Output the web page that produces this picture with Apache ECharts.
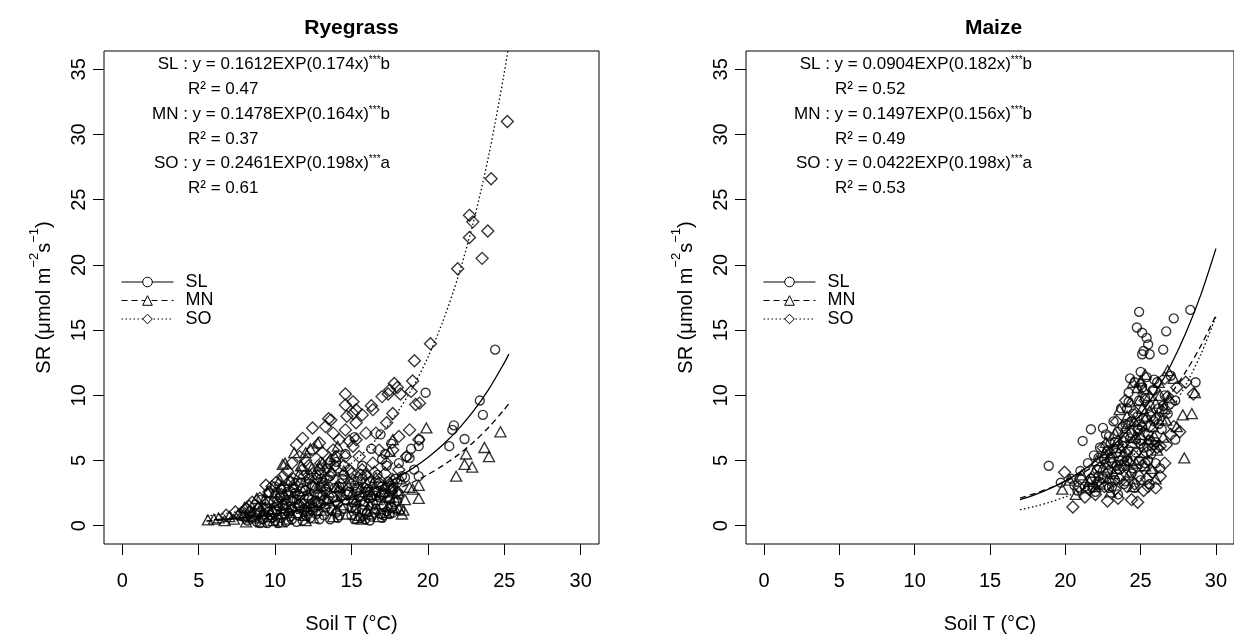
<!DOCTYPE html>
<html><head><meta charset="utf-8">
<script src="https://cdn.jsdelivr.net/npm/echarts@6/dist/echarts.min.js"></script>
<style>html,body{margin:0;padding:0;background:#fff}#c{width:1234px;height:639px}</style>
</head><body><div id="c"></div>
<script>
// ---------- data ----------
const panelTitles = ['Ryegrass', 'Maize'];
const xTicks = [0, 5, 10, 15, 20, 25, 30];
const yTicks = [0, 5, 10, 15, 20, 25, 30, 35];
const seriesNames = ['SL', 'MN', 'SO'];

const ryeEquations = ['SL : y = 0.1612EXP(0.174x)', 'MN : y = 0.1478EXP(0.164x)', 'SO : y = 0.2461EXP(0.198x)'];
const ryeLetters = ['b', 'b', 'a'];
const ryeR2 = ['0.47', '0.37', '0.61'];
const maizeEquations = ['SL : y = 0.0904EXP(0.182x)', 'MN : y = 0.1497EXP(0.156x)', 'SO : y = 0.0422EXP(0.198x)'];
const maizeLetters = ['b', 'b', 'a'];
const maizeR2 = ['0.52', '0.49', '0.53'];

// Ryegrass observations [soilT, SR]
const ryeSL = [[8.2,0.4],[8.5,0.7],[8.8,0.3],[9.0,1.0],[9.2,0.5],[9.4,1.4],[9.5,0.2],[9.7,0.8],[9.9,1.8],[10.0,0.4],[10.1,1.2],[10.3,2.2],[10.4,0.6],[10.5,1.6],[10.7,0.3],[10.8,2.6],[10.9,1.0],[11.0,1.9],[11.1,0.5],[11.2,2.9],[11.3,1.4],[11.5,0.8],[11.6,2.3],[11.7,3.3],[11.8,0.4],[11.9,1.7],[12.0,2.7],[12.1,1.1],[12.2,3.6],[12.3,0.6],[12.4,2.0],[12.5,1.4],[12.6,3.0],[12.7,0.9],[12.8,2.4],[12.9,4.0],[13.0,1.7],[13.1,3.3],[13.2,0.8],[13.3,2.6],[13.4,4.4],[13.5,1.9],[13.6,3.8],[13.7,1.2],[13.9,2.9],[14.0,4.9],[14.1,0.6],[14.3,2.2],[14.4,3.6],[14.5,1.3],
  [14.8,2.6],[15.0,0.8],[15.1,1.8],[15.2,3.1],[15.3,1.2],[15.5,2.3],[15.6,0.6],[15.7,3.6],[15.8,1.6],[15.9,2.9],[16.0,1.0],[16.1,2.1],[16.2,3.4],[16.3,0.7],[16.4,1.7],[16.5,2.7],[16.6,1.3],[16.7,3.9],[16.8,2.2],[16.9,0.9],[17.0,3.0],[17.1,1.5],[17.2,2.5],[17.3,1.1],[17.4,3.4],[17.5,2.0],[17.6,1.4],[17.7,2.8],[17.8,1.8],[18.0,3.3],[18.1,2.4],[18.2,1.2],
  [8.4,1.1],[8.7,1.6],[9.1,2.0],[9.3,0.9],[9.6,2.5],[9.8,0.6],[10.0,3.0],[10.2,1.5],[10.4,2.8],[10.6,0.9],[10.7,2.0],[11.0,3.4],[11.1,1.3],[11.3,2.5],[11.4,0.3],[11.6,1.5],[11.8,2.9],[12.0,0.8],[12.2,2.1],[12.4,3.1],[12.6,1.9],[12.7,3.9],[12.9,0.5],[13.1,2.3],[13.3,1.4],[13.5,3.0],[13.8,2.2],[14.0,1.0],[14.2,3.0],[14.6,2.0],[15.0,1.4],[15.3,2.6],[15.6,1.9],[15.9,0.5],[16.2,2.6],[16.5,1.0],[16.8,3.1],[17.1,0.8],[17.4,2.2],[17.7,1.0],[18.0,1.9],[16.0,3.9],[15.4,3.4],[17.9,3.6],[14.5,3.9],[13.0,3.6],[12.0,3.4],
  [9.0,0.2],[9.6,1.1],[10.2,0.2],[10.6,1.3],[11.0,0.7],[11.4,2.0],[11.9,1.3],[12.3,1.6],[12.8,1.1],[13.2,2.0],[13.6,0.5],[14.1,1.7],[15.2,0.5],[15.7,1.2],[16.2,0.4],[16.6,2.3],[17.0,0.6],[17.5,0.9],
  [14.6,5.5],[15.2,6.8],[15.7,4.6],[16.3,5.9],[16.9,7.0],[17.0,5.1],[17.2,5.5],[17.3,4.6],[17.6,6.3],[18.1,4.8],[18.3,3.8],[18.5,3.7],[18.6,5.3],[18.8,5.2],[18.9,5.9],[19.4,3.8],[19.4,6.1],[19.45,6.6],[19.85,10.2],[21.4,6.1],[21.6,7.35],[21.7,7.7],[22.4,6.65],[23.4,9.6],[23.6,8.5],[24.4,13.5],[14.2,0.8],[19.1,4.3]];
const ryeMN = [[5.6,0.45],[6.0,0.5],[6.3,0.6],[6.7,0.4],[7.0,0.7],[7.3,0.5],[7.6,0.9],[7.9,0.8],[8.1,0.3],[8.3,1.2],[8.6,0.6],[8.9,1.5],[9.1,0.3],
  [9.3,2.0],[9.6,0.7],[9.8,1.3],[10.0,2.6],[10.2,0.9],[10.4,3.0],[10.5,4.7],[10.6,1.6],[10.8,0.5],[11.0,3.5],[11.1,2.2],[11.25,5.6],[11.4,1.0],[11.6,4.0],[11.8,2.7],[12.0,5.6],[12.1,1.5],[12.3,3.9],[12.5,0.6],[12.6,2.9],[12.8,6.35],[12.9,4.6],[13.0,1.2],[13.2,3.5],[13.4,2.1],[13.6,5.1],[13.8,0.7],[13.9,5.3],[14.0,3.0],[14.1,6.1],[14.2,2.95],[14.3,1.6],[14.5,4.2],
  [8.0,1.4],[8.4,0.7],[8.8,2.1],[9.2,1.1],[9.5,2.6],[9.9,0.4],[10.1,1.8],[10.3,3.5],[10.6,2.4],[10.9,1.2],[11.2,3.0],[11.5,1.8],[11.7,4.6],[11.9,0.8],[12.2,2.4],[12.4,4.4],[12.7,1.8],[13.0,3.1],[13.1,4.8],[13.5,2.6],[13.7,4.2],[14.0,1.2],[14.4,2.4],[14.8,3.1],[15.3,2.0],[15.7,0.5],[15.9,2.6],[16.2,1.6],[16.4,3.3],[16.7,2.0],[17.1,2.6],[17.4,1.5],[17.6,3.0],[17.9,2.2],[18.2,3.6],[18.4,1.2],[16.0,1.2],[14.7,0.9],[12.0,0.4],[10.4,0.3],
  [15.0,2.4],[15.1,3.6],[15.2,1.4],[15.4,0.6],[15.5,0.8],[15.6,2.9],[15.8,1.9],[16.0,3.3],[16.1,0.9],[16.3,2.4],[16.5,1.3],[16.6,3.7],[16.8,0.7],[16.9,2.6],[17.0,1.7],[17.2,3.1],[17.3,1.0],[17.5,5.7],[17.5,2.2],[17.7,6.6],[17.7,3.6],[17.8,1.4],[18.0,2.7],[18.1,1.3],[18.3,0.9],[18.5,2.0],[18.8,2.95],[19.0,2.8],[19.4,2.1],[19.4,3.1],
  [19.9,7.5],[21.85,3.8],[22.4,4.7],[22.5,5.5],[22.9,4.5],[23.7,6.0],[24.0,5.3],[24.75,7.2],[10.65,4.8],[12.3,5.9]];
const ryeSO = [[7.8,1.0],[8.3,1.5],[8.7,0.9],[9.0,2.1],[9.3,1.3],[9.6,2.6],[9.9,1.0],[10.2,2.0],[10.6,2.9],[10.9,1.4],[11.2,3.6],[11.5,2.4],[11.9,1.2],[12.2,4.6],[12.5,3.0],[12.8,1.8],[13.1,5.6],[13.3,2.8],[13.7,4.0],[14.0,1.9],[14.3,3.2],[14.7,2.4],[15.0,4.0],[15.4,2.8],[15.9,3.9],[16.3,2.2],[16.8,3.3],[17.2,4.0],[17.6,2.6],
  [8.0,0.6],[8.9,1.3],[9.2,0.6],[9.5,1.8],[9.8,3.0],[10.1,1.2],[10.4,2.4],[10.7,1.7],[11.0,2.6],[11.3,3.2],[11.6,1.6],[11.9,3.8],[12.1,2.2],[12.4,1.2],[12.7,3.6],[13.0,2.4],[13.4,3.6],[13.6,1.4],[13.9,4.6],[14.2,2.6],[14.5,4.6],[14.9,3.3],[15.2,1.6],[15.6,3.9],[16.0,2.7],[16.5,4.1],[17.0,2.4],[17.5,3.2],[18.0,2.6],[12.0,5.0],[13.0,4.8],[10.8,4.2],
  [6.8,0.8],[7.4,1.06],[8.1,1.3],[8.5,1.8],[9.4,3.1],[10.05,3.3],[10.5,3.8],[11.1,4.8],[11.4,6.2],[11.6,5.3],[11.8,6.7],[11.8,4.3],[12.45,7.5],[12.45,5.8],[12.9,6.35],[12.9,4.3],[13.3,7.6],[13.5,8.2],[13.5,4.8],[13.65,8.1],[13.8,7.1],[13.8,5.8],[14.0,5.3],[14.2,6.6],[14.6,10.1],[14.6,9.25],[14.6,7.35],[14.6,5.3],[14.7,8.4],[14.85,6.5],[14.85,4.3],[15.1,9.5],[15.1,8.6],[15.1,6.1],[15.3,8.9],[15.3,7.9],[15.3,6.6],[15.5,5.3],[15.7,8.5],[15.7,4.3],[15.95,7.1],[16.3,9.2],[16.4,8.9],[16.4,4.8],[16.6,7.1],[16.8,5.8],[17.0,9.9],[17.3,7.9],[17.3,4.8],[17.4,10.1],[17.5,10.4],[17.7,8.6],[17.7,5.8],[17.8,10.9],[18.0,10.6],[18.1,6.85],[18.1,4.3],[18.2,10.1],[18.6,5.3],[18.8,7.35],[18.9,10.3],[19.0,11.1],[19.12,12.65],[19.2,9.3],[19.4,6.6],[19.45,9.4],[20.17,13.96],[21.95,19.7],[22.72,22.1],[22.72,23.8],[22.94,23.3],[23.55,20.5],[23.92,22.6],[24.14,26.6],[25.2,31.0]];

// Maize observations [soilT, SR]
const maizeSL = [[18.9,4.6],[19.7,3.3],[20.6,3.1],[21.15,6.5],[21.7,7.4],[22.5,7.5],[22.9,6.85],[24.2,9.5],[24.75,15.2],[24.9,16.4],[25.1,14.8],[25.4,14.4],[25.5,13.9],[25.2,13.4],[25.1,13.15],[25.6,13.15],[26.5,13.5],[26.7,14.9],[27.2,15.9],[28.3,16.55],[25.9,11.2],[27.3,6.6],[28.65,11.0],
  [20.4,3.6],[20.8,2.7],[21.0,4.2],[21.3,3.0],[21.5,4.8],[21.7,3.6],[21.9,5.4],[22.0,2.6],[22.1,4.3],[22.3,6.0],[22.4,3.3],[22.6,5.1],[22.7,7.0],[22.8,4.0],[22.9,2.9],[23.0,6.3],[23.1,4.8],[23.2,8.0],[23.3,3.5],[23.4,5.6],[23.5,7.2],[23.6,4.3],[23.7,9.0],[23.8,6.1],[23.9,3.2],[24.0,7.8],[24.1,5.0],[24.2,10.2],[24.3,6.7],[24.4,4.0],[24.5,8.6],[24.6,11.0],[24.7,5.6],[24.8,7.4],[24.9,9.6],[25.0,3.5],[25.0,6.3],[25.1,10.6],[25.2,8.2],[25.3,4.8],[25.4,11.4],[25.5,7.0],[25.6,9.2],[25.7,5.5],[25.8,10.4],[25.9,8.0],[26.0,6.4],[26.1,11.0],[26.2,9.0],[26.4,7.4],[26.6,10.0],[26.8,8.6],[27.0,11.5],[27.3,9.6],[22.2,3.8],[23.0,5.2],[24.0,4.6],[25.6,3.2],[26.3,4.4],[23.5,2.4],[24.6,2.9],
  [21.8,2.9],[22.2,5.2],[22.5,3.6],[22.8,5.8],[23.1,3.0],[23.3,6.4],[23.6,5.0],[23.8,7.6],[24.0,3.4],[24.2,5.8],[24.4,8.0],[24.5,4.4],[24.7,6.6],[24.9,5.0],[25.1,7.6],[25.3,9.8],[25.5,5.0],[25.7,8.4],[25.9,6.2],[26.2,7.8],[26.5,9.2],[26.0,4.8],[24.3,11.3],[25.0,11.8],
  [23.4,4.6],[23.9,6.8],[24.4,7.1],[24.8,8.4],[25.2,6.0],[25.6,6.6],[24.1,9.0],[23.2,5.9]];
const maizeMN = [[19.8,2.8],[20.3,3.5],[20.7,2.4],[21.1,3.9],[21.4,2.9],[21.9,4.1],[22.1,5.0],[22.3,3.2],[22.5,4.5],[22.7,6.4],[22.9,3.7],[23.1,5.6],[23.3,7.1],[23.4,4.4],[23.6,8.9],[23.7,6.0],[23.9,5.0],[24.0,7.5],[24.2,3.9],[24.3,9.5],[24.4,6.4],[24.6,8.0],[24.7,4.8],[24.8,10.6],[25.0,11.1],[25.0,7.0],[25.1,9.0],[25.2,5.6],[25.3,11.6],[25.4,8.4],[25.5,6.6],[25.6,10.0],[25.7,4.4],[25.8,7.6],[26.0,9.4],[26.1,5.8],[26.2,11.0],[26.4,8.2],[26.5,6.8],[26.7,8.1],[26.8,11.9],[26.9,9.8],[27.2,11.3],[27.4,7.6],[27.8,8.5],[27.9,5.2],[28.4,8.6],[28.6,10.2],[23.0,2.6],[24.5,3.0],[26.0,3.6],
  [21.6,3.4],[22.0,3.0],[22.6,5.6],[22.8,4.8],[23.2,4.0],[23.5,6.6],[23.8,5.4],[24.1,8.4],[24.3,5.0],[24.6,6.8],[24.9,9.6],[25.1,7.8],[25.3,4.6],[25.6,8.8],[25.9,6.9],[26.3,10.0],[26.6,9.0],[24.5,11.0],[25.2,10.5]];
const maizeSO = [[19.95,4.1],[20.5,1.44],[20.9,3.0],[21.3,2.2],[21.7,3.6],[22.0,2.4],[22.3,4.4],[22.6,3.0],[22.8,1.9],[23.0,5.0],[23.2,3.4],[23.5,2.1],[23.7,4.6],[23.9,6.4],[24.1,3.0],[24.2,7.8],[24.4,2.0],[24.5,5.4],[24.7,8.6],[24.8,1.8],[24.9,3.8],[25.0,6.6],[25.2,2.7],[25.3,9.6],[25.4,5.6],[25.4,3.6],[25.6,7.6],[25.8,4.1],[25.9,10.4],[26.0,2.9],[26.1,6.0],[26.3,6.1],[26.4,8.8],[26.6,4.8],[26.8,9.9],[27.0,7.0],[27.2,7.6],[27.4,10.6],[27.6,7.2],[28.0,11.0],[28.5,10.1],[24.0,9.6],[25.0,10.8],[26.6,11.3],[23.4,8.0],[22.5,6.0],
  [21.0,3.6],[21.6,2.8],[22.2,3.4],[22.9,4.2],[23.3,2.8],[23.6,3.6],[24.0,5.6],[24.3,4.2],[24.6,3.2],[24.9,7.4],[25.1,4.6],[25.5,3.0],[25.7,6.4],[26.0,8.2],[26.3,3.8],[26.7,6.2],[27.0,9.4]];

// Fitted curves [soilT, SR]
const ryeSLfit = [[6,0.458],[7,0.545],[8,0.649],[9,0.772],[10,0.918],[11,1.093],[12,1.301],[13,1.548],[14,1.842],[15,2.192],[16,2.609],[17,3.105],[18,3.695],[19,4.397],[20,5.233],[21,6.227],[22,7.411],[23,8.819],[24,10.50],[25,12.49],[25.3,13.16]];
const ryeMNfit = [[5.5,0.364],[6,0.395],[7,0.466],[8,0.549],[9,0.647],[10,0.762],[11,0.898],[12,1.058],[13,1.246],[14,1.468],[15,1.730],[16,2.038],[17,2.402],[18,2.830],[19,3.334],[20,3.928],[21,4.628],[22,5.453],[23,6.425],[24,7.570],[25,8.918],[25.3,9.366]];
const ryeSOfit = [[5.5,0.731],[6,0.807],[7,0.984],[8,1.200],[9,1.462],[10,1.782],[11,2.173],[12,2.648],[13,3.228],[14,3.935],[15,4.797],[16,5.847],[17,7.127],[18,8.688],[19,10.59],[20,12.91],[21,15.74],[22,19.18],[23,23.38],[24,28.50],[25,34.74],[25.5,38.36]];
const maizeSLfit = [[17,1.995],[18,2.393],[19,2.871],[20,3.444],[21,4.131],[22,4.956],[23,5.945],[24,7.132],[25,8.555],[26,10.26],[27,12.31],[28,14.77],[29,17.72],[30,21.25]];
const maizeMNfit = [[17,2.123],[18,2.482],[19,2.901],[20,3.391],[21,3.963],[22,4.632],[23,5.414],[24,6.328],[25,7.396],[26,8.645],[27,10.10],[28,11.81],[29,13.80],[30,16.13]];
const maizeSOfit = [[17,1.222],[18,1.490],[19,1.816],[20,2.214],[21,2.698],[22,3.289],[23,4.009],[24,4.887],[25,5.958],[26,7.263],[27,8.853],[28,10.79],[29,13.15],[30,16.03]];

// ---------- chart ----------
const FONT = '"Liberation Sans", Arial, Helvetica, sans-serif';
const chart = echarts.init(document.getElementById('c'), null, {renderer: 'canvas'});

const grids = [
  {left: 104, top: 51, width: 495, height: 494},
  {left: 746, top: 51, width: 495, height: 494}
];
grids.forEach(g => { g.show = true; g.borderColor = '#000'; g.borderWidth = 1; g.backgroundColor = 'transparent'; });

function xAxis(i) {
  return {
    type: 'value', gridIndex: i, min: -1.2, max: 31.2,
    axisLine: {show: false, onZero: false}, splitLine: {show: false},
    axisTick: {show: true, inside: false, length: 11, customValues: xTicks, lineStyle: {color: '#000', width: 1}},
    axisLabel: {customValues: xTicks, margin: 27, fontSize: 20, color: '#000', fontFamily: FONT},
    name: 'Soil T (°C)', nameLocation: 'middle', nameGap: 70,
    nameTextStyle: {fontSize: 20, color: '#000', fontFamily: FONT}
  };
}
function yAxis(i) {
  return {
    type: 'value', gridIndex: i, min: -1.4, max: 36.4,
    axisLine: {show: false, onZero: false}, splitLine: {show: false},
    axisTick: {show: true, inside: false, length: 11, customValues: yTicks, lineStyle: {color: '#000', width: 1}},
    axisLabel: {customValues: yTicks, rotate: 90, margin: 15, fontSize: 20, color: '#000', fontFamily: FONT},
    name: '{n|SR (μmol m}{s|−2}{n|s}{s|−1}{n|)}', nameLocation: 'middle', nameGap: 50,
    nameTextStyle: {
      color: '#000', fontFamily: FONT, fontSize: 20,
      rich: {
        n: {fontSize: 20, color: '#000', fontFamily: FONT, lineHeight: 26, verticalAlign: 'bottom'},
        s: {fontSize: 13, color: '#000', fontFamily: FONT, lineHeight: 14, verticalAlign: 'top'}
      }
    }
  };
}

const symbols = {SL: 'circle', MN: 'triangle', SO: 'diamond'};
const symSizes = {SL: 9, MN: [11, 10], SO: [12, 12]};
const dashes = {SL: 'solid', MN: [6, 4], SO: [1.5, 2.5]};

function curve(name, data, gi) {
  return {
    type: 'line', name: name, xAxisIndex: gi, yAxisIndex: gi, data: data,
    smooth: 0.3, symbol: symbols[name], symbolSize: 9, showSymbol: false, silent: true, z: 3,
    lineStyle: {color: '#000', width: 1.3, type: dashes[name]},
    itemStyle: {color: '#fff', borderColor: '#000', borderWidth: 1}
  };
}
function pts(name, data, gi) {
  return {
    type: 'scatter', name: name, xAxisIndex: gi, yAxisIndex: gi, data: data,
    symbol: symbols[name], symbolSize: symSizes[name], silent: true, z: 2,
    itemStyle: {color: 'rgba(0,0,0,0)', borderColor: '#000', borderWidth: 1.35}
  };
}

const series = [
  curve('SL', ryeSLfit, 0), curve('MN', ryeMNfit, 0), curve('SO', ryeSOfit, 0),
  curve('SL', maizeSLfit, 1), curve('MN', maizeMNfit, 1), curve('SO', maizeSOfit, 1),
  pts('SL', ryeSL, 0), pts('MN', ryeMN, 0), pts('SO', ryeSO, 0),
  pts('SL', maizeSL, 1), pts('MN', maizeMN, 1), pts('SO', maizeSO, 1)
];

function legend(left) {
  return {
    orient: 'vertical', left: left, top: 268, itemWidth: 52, itemHeight: 12, itemGap: 0.5,
    data: seriesNames, selectedMode: false,
    textStyle: {fontSize: 18, color: '#000', fontFamily: FONT, padding: [0, 0, 0, 7]},
    itemStyle: {color: '#fff', borderColor: '#000', borderWidth: 1},
    lineStyle: {color: '#000', width: 1}
  };
}

const rich = {s: {fontSize: 10, fill: '#000', fontFamily: FONT, verticalAlign: 'top', lineHeight: 10}};
function annot(eqs, letters, r2, eqRight, r2Left) {
  const out = [];
  const ys = [64, 114, 163];
  eqs.forEach((e, i) => {
    out.push({type: 'text', x: eqRight, y: ys[i], silent: true,
      style: {text: e + '{s|***}' + letters[i], rich: rich, fill: '#000', font: '17px ' + FONT,
        align: 'right', verticalAlign: 'middle', textAlign: 'right', textVerticalAlign: 'middle'}});
    out.push({type: 'text', x: r2Left, y: ys[i] + 25, silent: true,
      style: {text: 'R² = ' + r2[i], fill: '#000', font: '17px ' + FONT,
        align: 'left', verticalAlign: 'middle', textAlign: 'left', textVerticalAlign: 'middle'}});
  });
  return out;
}

const graphics = [
  {type: 'text', x: 351.5, y: 28, silent: true, style: {text: panelTitles[0], fill: '#000', font: 'bold 21px ' + FONT, align: 'center', verticalAlign: 'middle', textAlign: 'center', textVerticalAlign: 'middle'}},
  {type: 'text', x: 993.5, y: 28, silent: true, style: {text: panelTitles[1], fill: '#000', font: 'bold 21px ' + FONT, align: 'center', verticalAlign: 'middle', textAlign: 'center', textVerticalAlign: 'middle'}}
].concat(annot(ryeEquations, ryeLetters, ryeR2, 390, 188))
 .concat(annot(maizeEquations, maizeLetters, maizeR2, 1032, 835));

chart.setOption({
  animation: false,
  backgroundColor: '#fff',
  grid: grids,
  xAxis: [xAxis(0), xAxis(1)],
  yAxis: [yAxis(0), yAxis(1)],
  legend: [legend(116), legend(758)],
  series: series,
  graphic: graphics
});
</script></body></html>
